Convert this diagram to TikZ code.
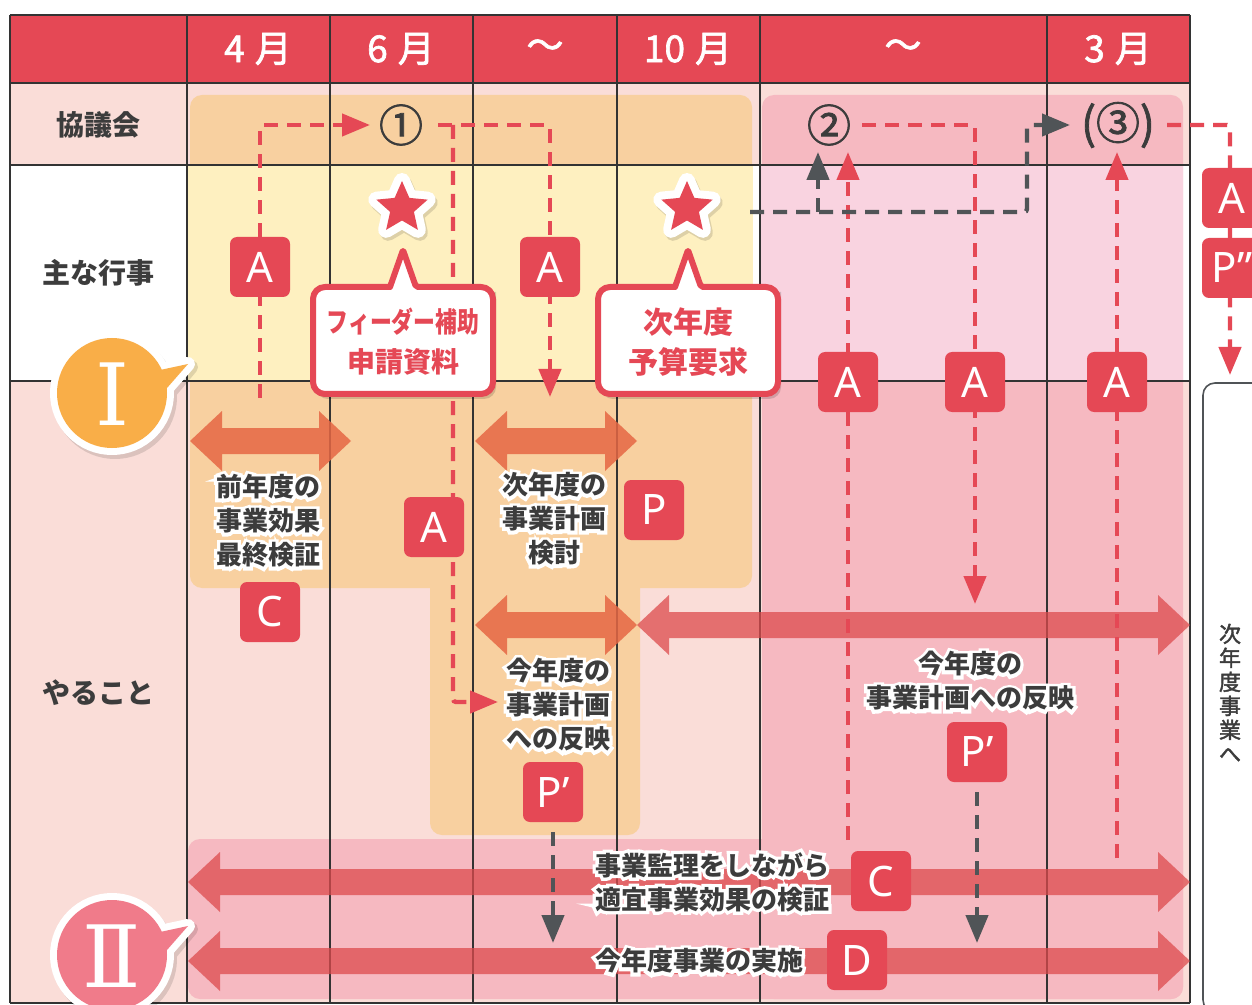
\documentclass[tikz,border=0pt]{standalone}
\usepackage{fontspec}
\usepackage{graphicx}
\setmainfont{Noto Sans CJK JP}
\newfontfamily\halofont{Noto Sans CJK JP}[FakeBold=25]
\newfontfamily\medfont{Noto Sans CJK JP}[FakeBold=1.8]
\newfontfamily\lat{Noto Sans}
\newfontfamily\romfont{DejaVu Serif}
\usetikzlibrary{arrows.meta,shapes.geometric}
\definecolor{hred}{HTML}{E54855}
\definecolor{lpink}{HTML}{FADDD8}
\definecolor{yel}{HTML}{FEF0C0}
\definecolor{org}{HTML}{F8D0A0}
\definecolor{pk}{HTML}{F6B9C1}
\definecolor{pkl}{HTML}{F9D3E0}
\definecolor{aorg}{HTML}{E66744}
\definecolor{ared}{HTML}{DD4B4D}
\definecolor{txt}{HTML}{3C3C3C}
\definecolor{gry}{HTML}{505457}
\definecolor{cI}{HTML}{F9AE48}
\definecolor{cII}{HTML}{F07B8A}
\definecolor{gridc}{HTML}{333333}
\newcommand\dbarr[4]{\fill[#4] (#1,#3) -- (#1+32,#3-30) -- (#1+32,#3-13) -- (#2-32,#3-13) -- (#2-32,#3-30) -- (#2,#3) -- (#2-32,#3+30) -- (#2-32,#3+13) -- (#1+32,#3+13) -- (#1+32,#3+30) -- cycle;}
\newcommand\starpath{(270:27) -- (306:12.5) -- (342:27) -- (18:12.5) -- (54:27) -- (90:12.5) -- (126:27) -- (162:12.5) -- (198:27) -- (234:12.5) -- cycle}
\newcommand\mo[1]{#1\hspace{5pt}月}
\begin{document}
\begin{tikzpicture}[x=0.5pt,y=-0.5pt,
  lbox/.style={fill=hred, rounded corners=3.5pt, minimum width=30pt, minimum height=30pt, inner sep=0pt, text=white, font=\lat\fontsize{21}{21}\selectfont},
  rdash/.style={draw=hred, line width=2.2pt, dash pattern=on 7pt off 4.5pt, rounded corners=1.5pt, -{Triangle[length=14pt,width=11pt]}},
  gdash/.style={draw=gry, line width=2.2pt, dash pattern=on 7pt off 4.5pt, rounded corners=1.5pt, -{Triangle[length=14pt,width=11pt]}},
  hdr/.style={text=white, font=\medfont\fontsize{18.5}{18.5}\selectfont},
  rowlab/.style={text=txt, font=\fontsize{14}{14}\selectfont\bfseries},
  bodytxt/.style={text=txt, font=\fontsize{13}{17}\selectfont\bfseries, align=center, inner sep=0pt},
  halo/.style={text=white, font=\halofont\bfseries\fontsize{13}{17}\selectfont, align=center, inner sep=0pt},
  cnum/.style={text=txt, font=\medfont\fontsize{22}{22}\selectfont, inner sep=0pt},
  ctext/.style={text=hred, font=\fontsize{14}{20}\selectfont\bfseries, align=center, inner sep=0pt},
  gridl/.style={draw=gridc, line width=0.7pt},
  aorgA/.style={fill=aorg, fill opacity=0.85},
  aredA/.style={fill=ared, fill opacity=0.75},
  callbox/.style={draw=hred, fill=white, line width=3pt, line join=round},
  shade/.style={fill=black, fill opacity=0.15}
]
\useasboundingbox (0,0) rectangle (1252,1005);
\fill[white] (0,0) rectangle (1252,1005);
% backgrounds
\fill[hred] (10,15) rectangle (1190,83);
\fill[lpink] (10,83) rectangle (1190,165);
\fill[lpink] (10,381) rectangle (1190,1003);
% region I
\fill[org, rounded corners=6pt] (190,95) rectangle (752,588);
\fill[org, rounded corners=6pt] (430,560) rectangle (640,835);
% region II
\fill[pk, rounded corners=6pt] (762,95) rectangle (1183,999);
\fill[pk, rounded corners=6pt] (188,839) rectangle (1183,999);
% event row bands
\fill[yel] (187,165) rectangle (753,381);
\fill[pkl] (760,165) rectangle (1183,381);
% grid
\foreach \x in {10,187,330,473,617,760,1047,1190} \draw[gridl] (\x,15) -- (\x,1003);
\foreach \y in {15,83,165,381,1003} \draw[gridl] (10,\y) -- (1190,\y);
% double arrows
\dbarr{190}{351}{441}{aorgA}
\dbarr{475}{637}{441}{aorgA}
\dbarr{475}{637}{625}{aorgA}
\dbarr{637}{1190}{625}{aredA}
\dbarr{188}{1190}{882}{aredA}
\dbarr{188}{1190}{961}{aredA}
% header text
\node[hdr] (m4) at (258,49) {\mo{4}};
\node[hdr] (m6) at (401,49) {\mo{6}};
\node[hdr] (w1) at (545,49) {～};
\node[hdr] (m10) at (688,49) {\mo{10}};
\node[hdr] (w2) at (903,49) {～};
\node[hdr] (m3) at (1118,49) {\mo{3}};
% row labels
\node[rowlab] (r1) at (98,125) {協議会};
\node[rowlab] (r2) at (98,273) {主な行事};
\node[rowlab] (r3) at (98,693) {やること};
% circled numbers
\node[cnum] (n1) at (401,125) {①};
\node[cnum] (n2) at (829,125) {②};
\node[cnum] (n3) at (1118,125) {(③)};
% connector coordinates
\coordinate (s1) at (260,398); \coordinate (t1) at (370,125);
\coordinate (s2) at (438,125); \coordinate (t2) at (550,397);
\coordinate (j1) at (453,125); \coordinate (t3) at (498,702);
\coordinate (s4) at (862,125); \coordinate (t4) at (975,604);
\coordinate (s5) at (848,840); \coordinate (t5) at (848,152);
\coordinate (s6) at (1117,858); \coordinate (t6) at (1117,152);
\coordinate (s7) at (1167,125); \coordinate (t7) at (1230,375);
\coordinate (s8) at (750,212); \coordinate (c8) at (1027,125); \coordinate (t8) at (1070,125);
\coordinate (j8) at (818,212); \coordinate (t9) at (818,152);
\coordinate (t10) at (553,943); \coordinate (t11) at (977,943);
\coordinate (P1b) at (553,832); \coordinate (P2b) at (977,792);
% connectors
\draw[rdash] (s1) |- (t1);
\draw[rdash] (s2) -| (t2);
\draw[rdash] (j1) |- (t3);
\draw[rdash] (s4) -| (t4);
\draw[rdash] (s5) -- (t5);
\draw[rdash] (s6) -- (t6);
\draw[rdash] (s7) -| (t7);
\draw[gdash] (s8) -| (c8) -- (t8);
\draw[gdash] (j8) -- (t9);
\draw[gdash] (P1b) -- (t10);
\draw[gdash] (P2b) -- (t11);
% boxes
\node[lbox] (A1) at (260,267) {A};
\node[lbox] (A2) at (550,267) {A};
\node[lbox] (A3) at (434,527) {A};
\node[lbox] (A4) at (848,382) {A};
\node[lbox] (A5) at (975,382) {A};
\node[lbox] (A6) at (1117,382) {A};
\node[lbox] (A7) at (1232,198) {A};
\node[lbox] (P3) at (1232,268) {P”};
\node[lbox] (P0) at (654,510) {P};
\node[lbox] (C1) at (270,612) {C};
\node[lbox] (P1) at (553,792) {P’};
\node[lbox] (P2) at (977,752) {P’};
\node[lbox] (C2) at (881,881) {C};
\node[lbox] (D1) at (857,960) {D};
% stars
\foreach \sx/\nm in {402/st1,687/st2} {
\begin{scope}[shift={(\sx,208)}]
  \path[fill=black, fill opacity=0.13, draw=black, draw opacity=0.13, line width=8pt, line join=round, shift={(2,3)}] \starpath;
  \path[draw=white, line width=8pt, line join=round, fill=white] \starpath;
  \fill[hred] \starpath;
  \coordinate (\nm) at (0,0);
\end{scope}
}
% callouts
\fill[shade] (395,292) -- (406,254) -- (419,292) -- (496,292) [rounded corners=6pt] -- (496,399) -- (316,399) -- (316,292) [sharp corners] -- cycle;
\draw[callbox] (390,287) [rounded corners=1pt] -- (403,250) -- (416,287) [rounded corners=6pt] -- (493,287) -- (493,394) -- (313,394) -- (313,287) [sharp corners] -- cycle;
\node[ctext] (cb1) at (403,342) {\scalebox{0.78}[1]{フィーダー補助}\\申請資料};
\fill[shade] (680,292) -- (691,254) -- (704,292) -- (781,292) [rounded corners=6pt] -- (781,399) -- (601,399) -- (601,292) [sharp corners] -- cycle;
\draw[callbox] (675,287) [rounded corners=1pt] -- (688,250) -- (701,287) [rounded corners=6pt] -- (778,287) -- (778,394) -- (598,394) -- (598,287) [sharp corners] -- cycle;
\node[ctext, font=\fontsize{15}{20}\selectfont\bfseries] (cb2) at (688,342) {次年度\\予算要求};
% body texts (white halo underneath)
\node[halo] at (268,521) {前年度の\\事業効果\\最終検証};
\node[bodytxt] (b1) at (268,521) {前年度の\\事業効果\\最終検証};
\node[halo] at (554,519) {次年度の\\事業計画\\検討};
\node[bodytxt] (b2) at (554,519) {次年度の\\事業計画\\検討};
\node[halo] at (558,705) {今年度の\\事業計画\\への反映};
\node[bodytxt] (b3) at (558,705) {今年度の\\事業計画\\への反映};
\node[halo] at (970,681) {今年度の\\事業計画への反映};
\node[bodytxt] (b4) at (970,681) {今年度の\\事業計画への反映};
\node[halo] at (712,882) {事業監理をしながら\\適宜事業効果の検証};
\node[bodytxt] (b5) at (712,882) {事業監理をしながら\\適宜事業効果の検証};
\node[halo] at (699,961) {今年度事業の実施};
\node[bodytxt] (b6) at (699,961) {今年度事業の実施};
% circle I
\path[fill=black, fill opacity=0.12, draw=black, draw opacity=0.12, line width=7pt, line join=round] (115,397) circle[radius=55] (163,375) -- (191,367) -- (170,392) -- cycle;
\path[fill=cI, draw=white, line width=7pt, line join=round] (112,393) circle[radius=55] (160,370) -- (188,364) -- (167,388) -- cycle;
\fill[cI] (112,393) circle[radius=55] (160,370) -- (188,364) -- (167,388) -- cycle;
\node[text=white, font=\romfont\fontsize{43}{43}\selectfont, inner sep=0pt] (cI) at (112,394) {Ⅰ};
% circle II
\path[fill=black, fill opacity=0.12, draw=black, draw opacity=0.12, line width=7pt, line join=round] (115,959) circle[radius=55] (163,937) -- (191,929) -- (170,954) -- cycle;
\path[fill=cII, draw=white, line width=7pt, line join=round] (112,955) circle[radius=55] (160,932) -- (188,926) -- (167,950) -- cycle;
\fill[cII] (112,955) circle[radius=55] (160,932) -- (188,926) -- (167,950) -- cycle;
\node[text=white, font=\romfont\fontsize{43}{43}\selectfont, inner sep=0pt] (cII) at (112,956) {Ⅱ};
% right box
\draw[draw=gry, line width=0.8pt, rounded corners=6pt] (1203,383) rectangle (1290,1012);
\node[text=txt, font=\medfont\fontsize{11}{12}\selectfont, align=center, inner sep=0pt] (nx) at (1230,693) {次\\年\\度\\事\\業\\へ};
\end{tikzpicture}
\end{document}
